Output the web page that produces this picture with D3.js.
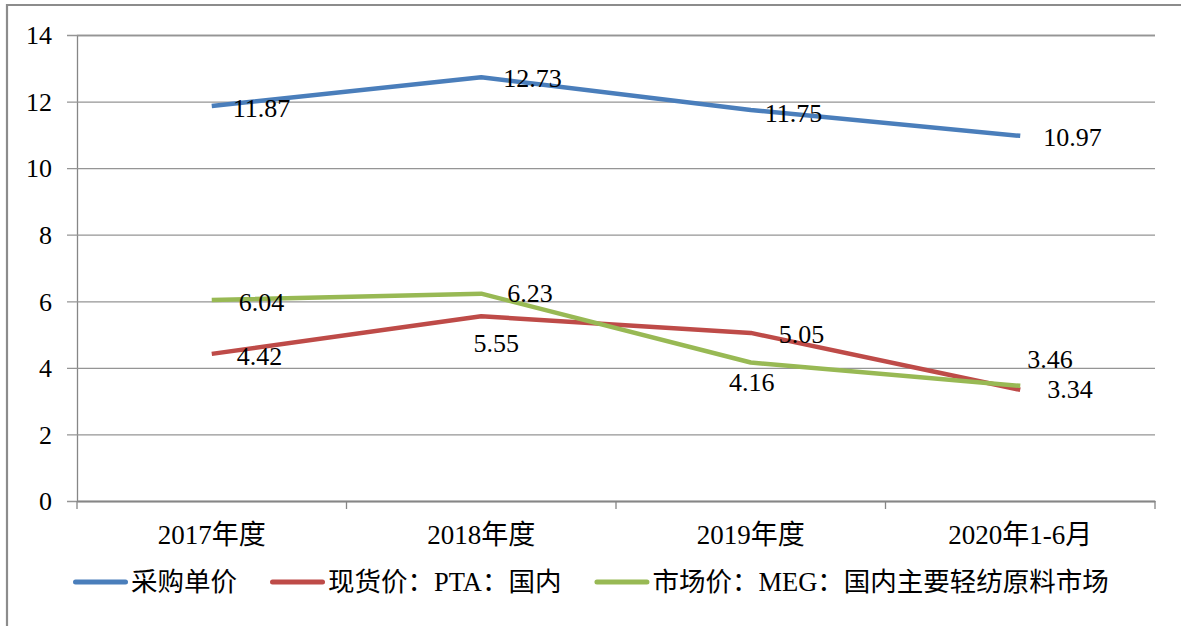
<!DOCTYPE html>
<html>
<head>
<meta charset="utf-8">
<script src="https://cdn.jsdelivr.net/npm/d3@7"></script>
<style>
  html, body { margin: 0; padding: 0; background: #fff; }
  svg { display: block; }
  svg text { font-family: "Liberation Serif", "Noto Sans CJK SC", serif !important; fill: #000; }
</style>
</head>
<body>
<svg id="chart" width="1181" height="626"></svg>
<script>
// Categories and series values
const categories = ["2017年度", "2018年度", "2019年度", "2020年1-6月"];
const seriesNames = ["采购单价", "现货价：PTA：国内", "市场价：MEG：国内主要轻纺原料市场"];
const purchasePrice = [11.87, 12.73, 11.75, 10.97];
const ptaPrice = [4.42, 5.55, 5.05, 3.34];
const megPrice = [6.04, 6.23, 4.16, 3.46];
const yTicks = [0, 2, 4, 6, 8, 10, 12, 14];

const series = [
  { name: seriesNames[0], values: purchasePrice, color: "#4a7ebb" },
  { name: seriesNames[1], values: ptaPrice, color: "#be4b48" },
  { name: seriesNames[2], values: megPrice, color: "#98b954" }
];

// Data-label offsets from each point: [dx, dy, anchor]
const labelPlacement = [
  [[21, 11, "start"], [22, 10, "start"], [14, 12, "start"], [23, 10, "start"]],
  [[25, 11, "start"], [15, 36, "middle"], [28, 10, "start"], [27, 8, "start"]],
  [[27, 11, "start"], [26, 8, "start"], [1, 28, "middle"], [7, -18, "start"]]
];

const svg = d3.select("#chart");

const plot = { left: 77, right: 1155, top: 35, bottom: 501 };

const x = d3.scaleBand().domain(categories).range([plot.left, plot.right]);
const y = d3.scaleLinear().domain([0, 14]).range([plot.bottom, plot.top]);

// Outer frame (top and left edges)
svg.append("path")
  .attr("d", "M7,626 V5 H1181")
  .attr("fill", "none")
  .attr("stroke", "#8c8c8c")
  .attr("stroke-width", 2.2);

// Horizontal gridlines with left tick stubs
const yAxis = d3.axisLeft(y)
  .tickValues(yTicks)
  .tickSize(-(plot.right - plot.left))
  .tickFormat(d3.format("d"));
const gy = svg.append("g")
  .attr("transform", `translate(${plot.left},0)`)
  .call(yAxis)
  .attr("font-family", null);
gy.select(".domain").attr("stroke", "#868686").attr("stroke-width", 1.3);
gy.selectAll(".tick line")
  .attr("stroke", "#959595")
  .attr("stroke-width", 1.3)
  .attr("x1", -10);
gy.selectAll(".tick text")
  .attr("x", -25)
  .attr("dy", "0.34em")
  .style("font-size", "26px");

// Category axis
const xAxis = d3.axisBottom(x).tickSize(0).tickSizeOuter(0);
const gx = svg.append("g")
  .attr("transform", `translate(0,${plot.bottom})`)
  .call(xAxis)
  .attr("font-family", null);
gx.select(".domain").attr("stroke", "#868686").attr("stroke-width", 1.3);
gx.selectAll(".tick text")
  .attr("y", 43)
  .attr("dy", 0)
  .style("font-size", "27px");

// Category boundary ticks
const boundaries = categories.map(c => x(c)).concat([plot.right]);
gx.selectAll("line.bound")
  .data(boundaries)
  .join("line")
  .attr("class", "bound")
  .attr("x1", d => d).attr("x2", d => d)
  .attr("y1", 0).attr("y2", 8)
  .attr("stroke", "#868686")
  .attr("stroke-width", 1.3);

const xc = c => x(c) + x.bandwidth() / 2;

const line = d3.line()
  .x((d, i) => xc(categories[i]))
  .y(d => y(d));

// Series lines
svg.append("g").selectAll("path")
  .data(series)
  .join("path")
  .attr("d", s => line(s.values))
  .attr("fill", "none")
  .attr("stroke", s => s.color)
  .attr("stroke-width", 4.5)
  .attr("stroke-linejoin", "round");

// Data labels
series.forEach((s, si) => {
  svg.append("g").selectAll("text")
    .data(s.values)
    .join("text")
    .attr("x", (d, i) => xc(categories[i]) + labelPlacement[si][i][0])
    .attr("y", (d, i) => y(d) + labelPlacement[si][i][1])
    .attr("text-anchor", (d, i) => labelPlacement[si][i][2])
    .style("font-size", "26px")
    .text(d => d.toFixed(2));
});

// Legend: swatch line + label, laid out left to right
const legend = svg.append("g");
let cursor = 73;
series.forEach((s) => {
  const g = legend.append("g").attr("transform", `translate(${cursor},582)`);
  g.append("line")
    .attr("x1", 2.5).attr("x2", 52.5)
    .attr("y1", 0).attr("y2", 0)
    .attr("stroke", s.color)
    .attr("stroke-width", 5)
    .attr("stroke-linecap", "round");
  const t = g.append("text")
    .attr("x", 58)
    .attr("y", 9)
    .style("font-size", "26.5px")
    .text(s.name);
  cursor += 58 + t.node().getComputedTextLength() + 33;
});
</script>
</body>
</html>
